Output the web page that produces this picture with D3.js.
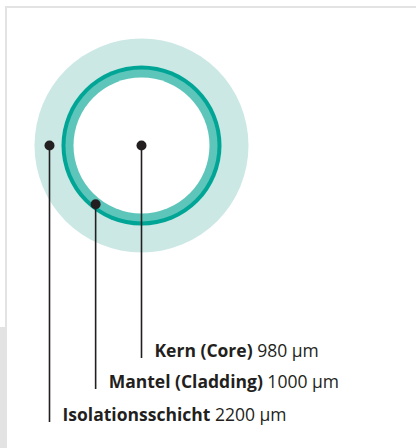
<!DOCTYPE html>
<html>
<head>
<meta charset="utf-8">
<script src="https://cdn.jsdelivr.net/npm/d3@7"></script>
<style>
  body { margin: 0; background: #fff; }
  svg { display: block; font-family: "Open Sans", "Liberation Sans", Arial, sans-serif; }
</style>
</head>
<body>
<svg width="416" height="448"></svg>
<script>
// layers of the fibre, from inside out
let schichten = ["Kern (Core)", "Mantel (Cladding)", "Isolationsschicht"];
let durchmesser = [980, 1000, 2200]; // µm
let einheit = "µm";

let $svg = d3.select("svg");

// frame
$svg.append("rect").attr("x", 0).attr("y", 327).attr("width", 7).attr("height", 121).attr("fill", "#e3e3e3");
$svg.append("path")
  .attr("d", "M6,330 V7 H416")
  .attr("fill", "none")
  .attr("stroke", "#e3e3e3")
  .attr("stroke-width", 2);

let cx = 141.5, cy = 145.5;

// radius scale (not to scale in the original drawing)
let r = d3.scaleLinear()
  .domain(durchmesser)
  .range([68, 80, 107]);

// insulation
$svg.append("circle")
  .attr("cx", cx).attr("cy", cy)
  .attr("r", r(durchmesser[2]))
  .attr("fill", "#cbe8e5");

// cladding with darker outer edge
$svg.append("circle")
  .attr("cx", cx).attr("cy", cy)
  .attr("r", r(durchmesser[1]))
  .attr("fill", "#00a596");
$svg.append("circle")
  .attr("cx", cx).attr("cy", cy)
  .attr("r", r(durchmesser[1]) - 4)
  .attr("fill", "#5ec5bb");

// core
$svg.append("circle")
  .attr("cx", cx).attr("cy", cy)
  .attr("r", r(durchmesser[0]))
  .attr("fill", "#fff");

// pointer positions: middle of each layer, angle per layer
let winkel = [0, 128, 180]; // degrees from "right", clockwise
let mitte = [0, (r(durchmesser[0]) + r(durchmesser[1])) / 2 + 0.5, (r(durchmesser[1]) + r(durchmesser[2])) / 2 - 1.5];
let text_y = [357, 388, 421];

let punkte = schichten.map((s, i) => {
  let a = winkel[i] * Math.PI / 180;
  return {
    name: s,
    wert: durchmesser[i],
    x: cx + mitte[i] * Math.cos(a),
    y: cy + mitte[i] * Math.sin(a),
    ty: text_y[i]
  };
});

let g = $svg.selectAll("g.label").data(punkte).enter().append("g").classed("label", true);

g.append("line")
  .attr("x1", d => d.x).attr("y1", d => d.y)
  .attr("x2", d => d.x).attr("y2", d => d.ty + 1)
  .attr("stroke", "#231f20")
  .attr("stroke-width", 1.6);

g.append("circle")
  .attr("cx", d => d.x).attr("cy", d => d.y)
  .attr("r", 5)
  .attr("fill", "#231f20");

let t = g.append("text")
  .attr("x", d => d.x + 13)
  .attr("y", d => d.ty)
  .attr("font-size", 17.5)
  .attr("fill", "#231f20");

t.append("tspan").attr("font-weight", "bold").text(d => d.name);
t.append("tspan").text(d => " " + d.wert + " " + einheit);
</script>
</body>
</html>
